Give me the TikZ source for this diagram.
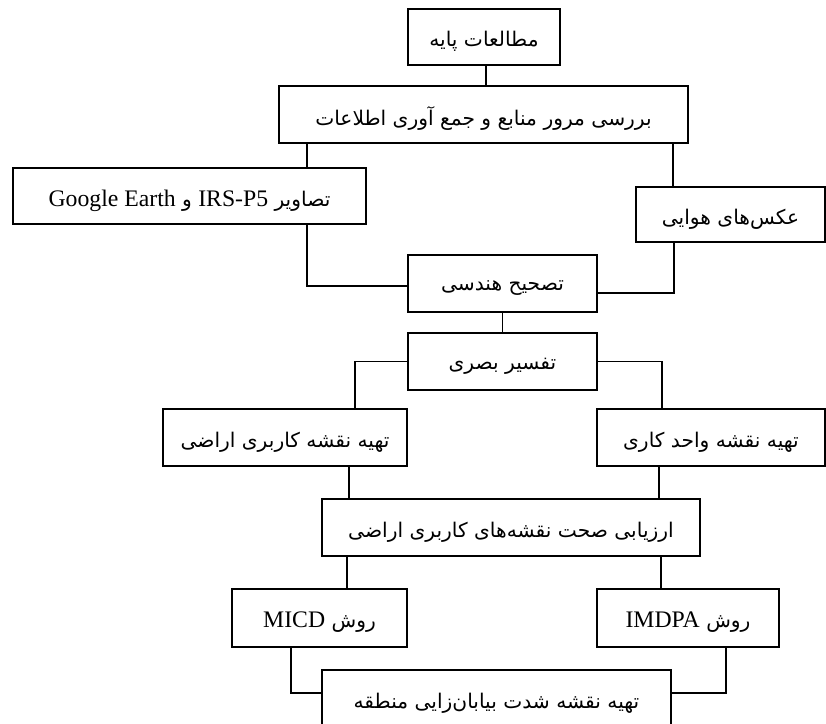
\documentclass[tikz,border=0pt]{standalone}
\usepackage{fontspec}
\setmainfont{Liberation Serif}
\newfontfamily\farsi[Script=Arabic]{DejaVu Sans}
\TeXXeTstate=1
\usetikzlibrary{positioning,calc}
\newcommand{\fatext}[1]{\raisebox{-2.5pt}[\height][\depth]{\beginR #1\endR}}
\newcommand{\latext}[1]{\beginL{\rmfamily\fontsize{13.5}{16}\selectfont #1}\endL}

\begin{document}
\begin{tikzpicture}
		[
		x = 0.02cm, y = -0.02cm,
		blok/.style = {draw, line width = 0.9pt, inner sep = 0pt, align = center, font = \fontsize{11.5}{14}\selectfont\farsi},
		yol/.style = {line width = 0.9pt}
		]
		
		\useasboundingbox (0,0) rectangle (826,724);
		\clip (0,0) rectangle (826,724);
		
		\node[blok, minimum width = 3.04cm, minimum height = 1.12cm] (paye) at (484,37) {\fatext{مطالعات پایه}};
		\node[blok, minimum width = 8.18cm, minimum height = 1.14cm] (barresi) at (483.5,114.5) {\fatext{بررسی مرور منابع و جمع آوری اطلاعات}};
		\node[blok, minimum width = 7.06cm, minimum height = 1.12cm] (tasavir) at (189.5,196) {\fatext{تصاویر \latext{IRS-P5} و \latext{Google Earth}}};
		\node[blok, minimum width = 3.78cm, minimum height = 1.10cm] (aks) at (730.5,214.5) {\fatext{عکس‌های هوایی}};
		\node[blok, minimum width = 3.78cm, minimum height = 1.14cm] (tashih) at (502.5,283.5) {\fatext{تصحیح هندسی}};
		\node[blok, minimum width = 3.78cm, minimum height = 1.14cm] (tafsir) at (502.5,361.5) {\fatext{تفسیر بصری}};
		\node[blok, minimum width = 4.88cm, minimum height = 1.14cm] (karbari) at (285,437.5) {\fatext{تهیه نقشه کاربری اراضی}};
		\node[blok, minimum width = 4.56cm, minimum height = 1.14cm] (vahed) at (711,437.5) {\fatext{تهیه نقشه واحد کاری}};
		\node[blok, minimum width = 7.56cm, minimum height = 1.14cm] (arzyabi) at (511,527.5) {\fatext{ارزیابی صحت نقشه‌های کاربری اراضی}};
		\node[blok, minimum width = 3.50cm, minimum height = 1.16cm] (micd) at (319.5,618) {\fatext{روش \latext{MICD}}};
		\node[blok, minimum width = 3.64cm, minimum height = 1.16cm] (imdpa) at (688,618) {\fatext{روش \latext{IMDPA}}};
		\node[blok, minimum width = 6.98cm, minimum height = 1.14cm] (shedat) at (496.5,698.5) {\fatext{تهیه نقشه شدت بیابان‌زایی منطقه}};
		
		\draw[yol] ([xshift = 0.04cm]paye.south) coordinate (k) -- (k |- barresi.north);
		\draw[yol] ([xshift = 0.58cm]barresi.south west) coordinate (k) -- (k |- tasavir.north);
		\draw[yol] ([xshift = -0.32cm]barresi.south east) coordinate (k) -- (k |- aks.north);
		\draw[yol] ([xshift = -1.2cm]tasavir.south east) |- ([yshift = -0.05cm]tashih.west);
		\draw[yol] ([xshift = 0.78cm]aks.south west) |- ([yshift = -0.19cm]tashih.east);
		\draw[yol] (tashih) -- (tafsir);
		\draw[yol] (tafsir.west) -| ([xshift = -1.06cm]karbari.north east);
		\draw[yol] (tafsir.east) -| ([xshift = 1.32cm]vahed.north west);
		\draw[yol] ([xshift = -1.18cm]karbari.south east) coordinate (k) -- (k |- arzyabi.north);
		\draw[yol] ([xshift = 1.26cm]vahed.south west) coordinate (k) -- (k |- arzyabi.north);
		\draw[yol] ([xshift = 0.52cm]arzyabi.south west) coordinate (k) -- (k |- micd.north);
		\draw[yol] ([xshift = -0.8cm]arzyabi.south east) coordinate (k) -- (k |- imdpa.north);
		\draw[yol] ([xshift = 1.2cm]micd.south west) |- ([yshift = 0.11cm]shedat.west);
		\draw[yol] ([xshift = -1.08cm]imdpa.south east) |- ([yshift = 0.11cm]shedat.east);
		
\end{tikzpicture}
\end{document}
